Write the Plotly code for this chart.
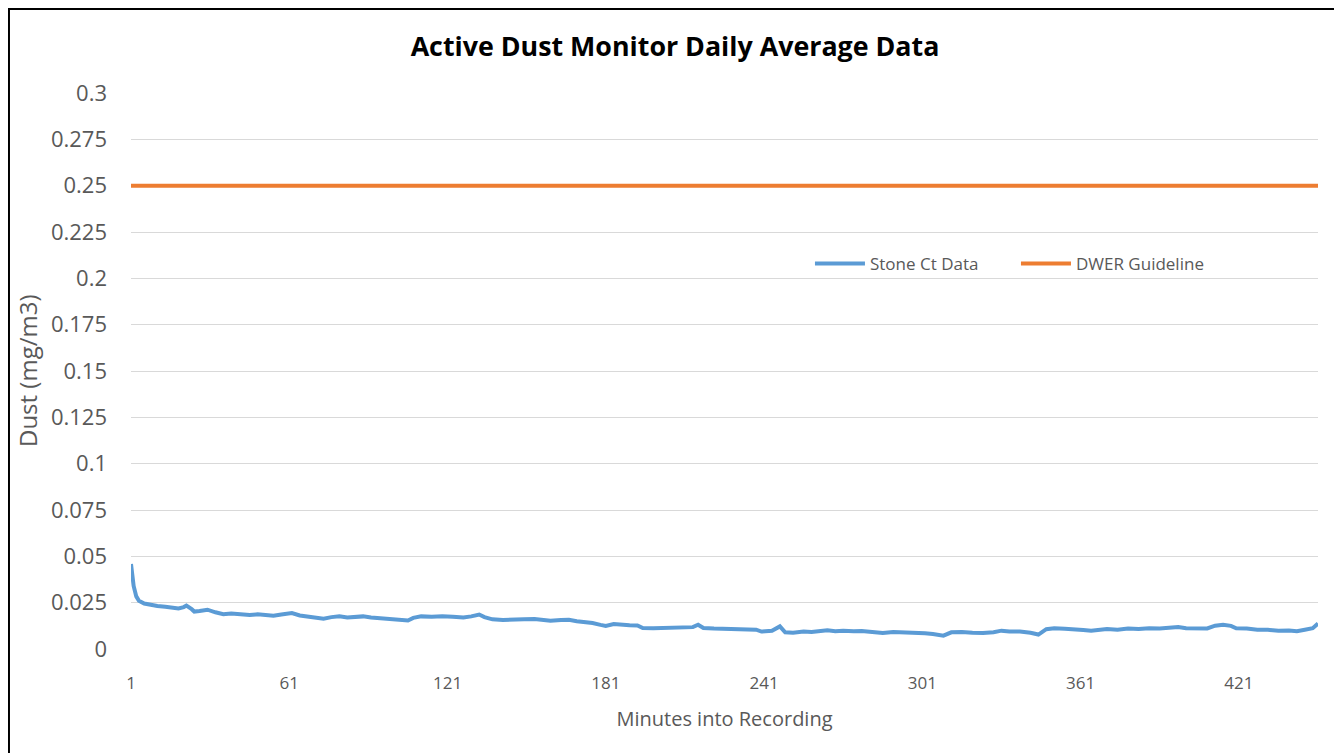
import plotly.graph_objects as go

# Data
minutes = [1, 2, 3, 4, 6, 8, 11, 14, 17, 19, 21, 22, 24, 25, 27, 30, 33, 36, 39, 43,
           46, 49, 52, 55, 58, 62, 65, 68, 71, 74, 77, 80, 83, 86, 89, 92, 95, 98, 101, 104,
           106, 108, 111, 115, 119, 123, 127, 130, 133, 135, 138, 142, 146, 150, 154, 157, 160, 164, 167, 170,
           173, 176, 179, 181, 184, 187, 190, 193, 195, 199, 203, 207, 211, 214, 216, 218, 222, 226, 230, 234,
           238, 240, 244, 247, 249, 252, 256, 259, 262, 265, 268, 271, 275, 278, 282, 286, 290, 294, 298, 302,
           305, 309, 312, 316, 320, 324, 328, 331, 334, 338, 342, 345, 348, 351, 355, 358, 362, 365, 368, 371,
           375, 379, 383, 387, 391, 395, 398, 401, 405, 409, 412, 415, 418, 420, 424, 428, 432, 436, 440, 443,
           446, 449, 451]
stone_ct = [0.0459, 0.034, 0.0284, 0.026, 0.0245, 0.0238, 0.0232, 0.0228, 0.0222, 0.0219,
            0.0226, 0.0234, 0.0215, 0.0202, 0.0205, 0.0212, 0.0198, 0.0188, 0.0192, 0.0189,
            0.0183, 0.0187, 0.0181, 0.0179, 0.0186, 0.0194, 0.0181, 0.0174, 0.0170, 0.0164,
            0.0172, 0.0176, 0.0170, 0.0174, 0.0176, 0.0170, 0.0167, 0.0162, 0.0160, 0.0156,
            0.0154, 0.0168, 0.0176, 0.0174, 0.0177, 0.0174, 0.0170, 0.0176, 0.0186, 0.0172,
            0.0160, 0.0157, 0.0156, 0.0160, 0.0162, 0.0156, 0.0153, 0.0157, 0.0158, 0.0150,
            0.0146, 0.0140, 0.0130, 0.0124, 0.0135, 0.0130, 0.0128, 0.0127, 0.0113, 0.0112,
            0.0114, 0.0116, 0.0119, 0.0118, 0.0131, 0.0113, 0.0110, 0.0108, 0.0108, 0.0107,
            0.0104, 0.0094, 0.0098, 0.0122, 0.0090, 0.0088, 0.0094, 0.0092, 0.0098, 0.0101,
            0.0096, 0.0099, 0.0096, 0.0097, 0.0092, 0.0086, 0.0092, 0.0090, 0.0091, 0.0085,
            0.0081, 0.0072, 0.0090, 0.0092, 0.0088, 0.0086, 0.0090, 0.0099, 0.0094, 0.0095,
            0.0088, 0.0078, 0.0107, 0.0112, 0.0109, 0.0108, 0.0103, 0.0099, 0.0106, 0.0108,
            0.0104, 0.0110, 0.0108, 0.0112, 0.0110, 0.0113, 0.0119, 0.0112, 0.0112, 0.0111,
            0.0126, 0.0131, 0.0125, 0.0112, 0.0110, 0.0104, 0.0104, 0.0098, 0.0100, 0.0096,
            0.0104, 0.0112, 0.0137]
guideline_minutes = [1, 451]
guideline_values = [0.25, 0.25]

x_tickvals = [1, 61, 121, 181, 241, 301, 361, 421]
y_tickvals = [0, 0.025, 0.05, 0.075, 0.1, 0.125, 0.15, 0.175, 0.2, 0.225, 0.25, 0.275, 0.3]
y_ticktext = ["0", "0.025", "0.05", "0.075", "0.1", "0.125", "0.15", "0.175", "0.2",
              "0.225", "0.25", "0.275", "0.3"]

fig = go.Figure()
fig.add_trace(go.Scatter(x=minutes, y=stone_ct, mode="lines", name="Stone Ct Data",
                         line=dict(color="#5b9bd5", width=4)))
fig.add_trace(go.Scatter(x=guideline_minutes, y=guideline_values, mode="lines",
                         name="DWER Guideline", line=dict(color="#ed7d31", width=4)))

font_family = "Open Sans, Lato, DejaVu Sans, sans-serif"
fig.update_layout(
    width=1334, height=745,
    margin=dict(l=123, r=24, t=85, b=104),
    paper_bgcolor="white", plot_bgcolor="white",
    font=dict(family=font_family, color="#595959", size=17),
    title=dict(text="<b>Active Dust Monitor Daily Average Data</b>",
               x=0.5, xanchor="center", y=0.9477, yanchor="middle",
               font=dict(size=26.8, color="#000000", family=font_family)),
    showlegend=True,
    legend=dict(orientation="h", x=0.572, y=0.6924, xanchor="left", yanchor="middle",
                bgcolor="rgba(0,0,0,0)", font=dict(size=17, color="#595959"),
                itemwidth=50, entrywidth=141),
    xaxis=dict(range=[1, 451], tickvals=x_tickvals, showgrid=False, zeroline=False,
               showline=False, ticks="", ticklabelstandoff=22,
               tickfont=dict(size=17, color="#595959"),
               title=dict(text="Minutes into Recording", standoff=18,
                          font=dict(size=20, color="#595959"))),
    yaxis=dict(range=[0, 0.3], tickvals=y_tickvals, ticktext=y_ticktext,
               showgrid=True, gridcolor="#d9d9d9", gridwidth=1, zeroline=False,
               showline=False, ticks="", ticklabelstandoff=23,
               tickfont=dict(size=22, color="#595959")),
    annotations=[dict(text="Dust (mg/m3)", textangle=-90, xref="paper", yref="paper",
                      x=-0.0876, y=0.5, xanchor="center", yanchor="middle",
                      showarrow=False, font=dict(size=24, color="#595959"))],
    shapes=[dict(type="rect", xref="paper", yref="paper",
                 x0=-0.1028, x1=1.0185, y0=-0.2, y1=1.151,
                 line=dict(color="black", width=2), fillcolor="rgba(0,0,0,0)")],
)

fig.write_html("out.html")
